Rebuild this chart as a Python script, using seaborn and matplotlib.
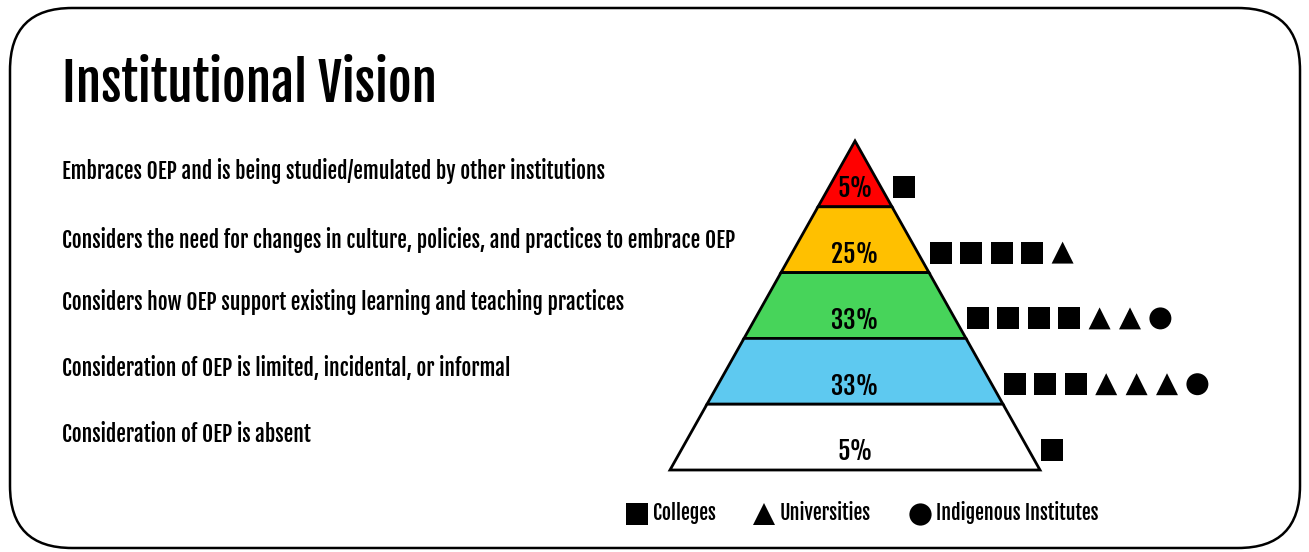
import matplotlib
matplotlib.use("Agg")
import matplotlib.pyplot as plt
from matplotlib.lines import Line2D
from matplotlib.patches import FancyBboxPatch, Polygon
import pandas as pd
import seaborn as sns

# ---- data -------------------------------------------------------------
levels = [
    "Embraces OEP and is being studied/emulated by other institutions",
    "Considers the need for changes in culture, policies, and practices to embrace OEP",
    "Considers how OEP support existing learning and teaching practices",
    "Consideration of OEP is limited, incidental, or informal",
    "Consideration of OEP is absent",
]
percents = [5, 25, 33, 33, 5]
colleges = [1, 4, 4, 3, 1]
universities = [0, 1, 2, 3, 0]
indigenous = [0, 0, 1, 1, 0]
band_colors = ["#FF0000", "#FFC000", "#47D45A", "#5EC9F0", "#FFFFFF"]
groups = ["Colleges", "Universities", "Indigenous Institutes"]
group_markers = {"Colleges": "s", "Universities": "^", "Indigenous Institutes": "o"}

sns.set_theme(style="white")
FONT = ["Fjalla One", "Oswald", "DejaVu Sans"]
plt.rcParams["font.family"] = FONT
plt.rcParams["text.color"] = "black"

# ---- layout (pixel space) ---------------------------------------------
W, H = 1309, 552
APEX_X, APEX_Y, BASE_Y, HALF_BASE = 855, 141, 470, 185
LABEL_X = 62

fig = plt.figure(figsize=(W / 100, H / 100), dpi=100)
ax = fig.add_axes([0, 0, 1, 1])
ax.set_xlim(0, W)
ax.set_ylim(H, 0)
ax.axis("off")

# rounded card border
ax.add_patch(FancyBboxPatch((10, 8), 1290, 540, boxstyle="round,pad=0,rounding_size=62",
                            fc="white", ec="black", lw=1.8))

ax.text(LABEL_X, 84, "Institutional Vision", fontsize=37, va="center", ha="left")

n = len(levels)
band_h = (BASE_Y - APEX_Y) / n


def half_width(y):
    return HALF_BASE * (y - APEX_Y) / (BASE_Y - APEX_Y)


label_y = [171, 240, 302, 369, 435]
rows = []
for i, (lab, pct, col) in enumerate(zip(levels, percents, band_colors)):
    top = APEX_Y + i * band_h
    bot = top + band_h
    wt, wb = half_width(top), half_width(bot)
    ax.add_patch(Polygon([(APEX_X - wt, top), (APEX_X + wt, top),
                          (APEX_X + wb, bot), (APEX_X - wb, bot)],
                         closed=True, fc=col, ec="black", lw=2, joinstyle="miter"))
    ax.text(APEX_X, bot - 18, f"{pct}%", ha="center", va="center", fontsize=18)
    ax.text(LABEL_X, label_y[i], lab, ha="left", va="center", fontsize=15.5)
    # institution markers, lined up beside the band's right edge
    kinds = (["Colleges"] * colleges[i] + ["Universities"] * universities[i]
             + ["Indigenous Institutes"] * indigenous[i])
    for k, g in enumerate(kinds):
        rows.append({"x": APEX_X + wb + 12 + k * 30.4, "y": bot - 20, "group": g})

marks = pd.DataFrame(rows)
sns.scatterplot(data=marks, x="x", y="y", style="group", markers=group_markers,
                style_order=groups, color="black", s=250, linewidth=0,
                legend=False, ax=ax)

handles = [Line2D([], [], ls="none", marker=group_markers[g], color="black",
                  markersize=16, markeredgewidth=0) for g in groups]
ax.legend(handles, groups, loc="center", bbox_to_anchor=(862 / W, 1 - 513 / H),
          ncol=3, frameon=False, fontsize=14.3, handletextpad=0.25, columnspacing=1.9,
          handlelength=1.1)

fig.savefig("out.png", dpi=100)
